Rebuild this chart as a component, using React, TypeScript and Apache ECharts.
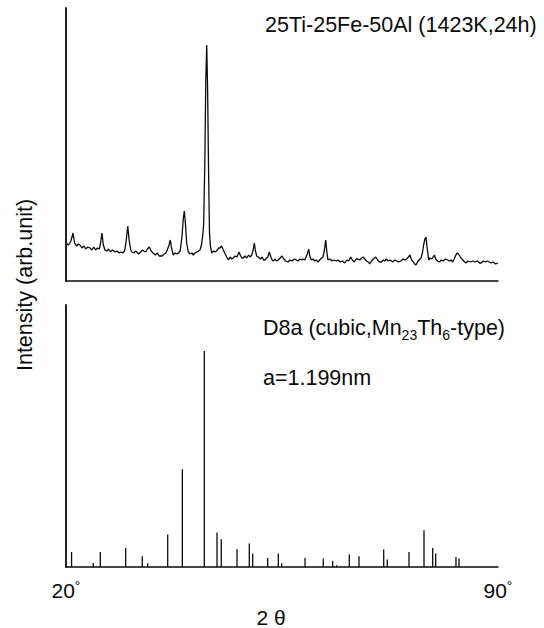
import React, { useEffect, useRef } from "react";
import * as echarts from "echarts";

// ---- Data ----
// Top panel: measured XRD trace, 25Ti-25Fe-50Al (1423K, 24h)
const topTwoTheta: number[] = [
  20.0, 20.4, 20.8, 21.13, 21.4, 21.7, 22.0, 22.27, 22.6, 22.9, 23.2, 23.5, 23.89, 24.2, 24.5, 24.8, 25.1, 25.4, 25.6, 25.83, 26.05, 26.32, 26.6, 26.9, 27.2, 27.5, 27.94, 28.3, 28.6, 28.9, 29.2, 29.5, 29.75, 30.0, 30.25, 30.5, 30.69,
  31.0, 31.3, 31.78, 32.1, 32.4, 32.59, 32.9, 33.2, 33.5, 33.8, 34.1, 34.47, 34.8, 35.1, 35.56, 35.9, 36.2, 36.41, 36.7, 36.9, 37.1, 37.39, 37.7, 38.0, 38.2, 38.5, 38.8, 39.0, 39.17, 39.35, 39.55, 39.82, 40.1, 40.4, 40.63, 40.9, 41.2, 41.5, 41.71, 41.95, 42.15, 42.3, 42.5, 42.65, 42.8, 42.95, 43.1, 43.25, 43.4, 43.61,
  43.9, 44.2, 44.5, 44.75, 44.95, 45.2, 45.49, 45.8, 46.05, 46.3, 46.6, 46.85, 47.11, 47.4, 47.7, 48.03, 48.3, 48.5, 48.73, 49.0, 49.3, 49.6, 49.82, 50.1, 50.3, 50.51, 50.7, 50.9, 51.16, 51.5, 51.8, 52.0, 52.25, 52.5, 52.7, 52.94, 53.2, 53.4, 53.59, 53.9, 54.1, 54.4, 54.7, 55.0, 55.3, 55.6, 55.97,
  56.3, 56.6, 57.0, 57.32, 57.6, 57.9, 58.2, 58.4, 58.68, 58.9, 59.1, 59.33, 59.5, 59.75, 60.0, 60.3, 60.55, 60.83, 61.1, 61.4, 61.64, 61.85, 62.08, 62.25, 62.45, 62.8, 63.1, 63.4, 63.8, 64.1, 64.4, 64.8, 65.16, 65.5, 65.8, 66.13, 66.4, 66.7, 67.0, 67.32, 67.6, 67.9, 68.13, 68.4, 68.7, 69.0, 69.21, 69.5, 69.8, 70.18, 70.5, 70.8, 71.09, 71.4, 71.65, 71.9,
  72.2, 72.5, 72.94, 73.3, 73.6, 73.9, 74.28, 74.6, 74.9, 75.2, 75.5, 75.74, 76.0, 76.3, 76.5, 76.71, 76.95, 77.2, 77.52, 77.75, 77.95, 78.15, 78.33, 78.5, 78.77, 79.0, 79.3, 79.68, 79.9, 80.2, 80.49, 80.8, 81.1, 81.5, 81.85, 82.1, 82.4, 82.66, 82.9, 83.1, 83.36, 83.6, 84.0, 84.3, 84.6, 84.81, 85.1, 85.5, 85.9, 86.3, 86.7, 87.0, 87.25, 87.6, 88.0, 88.3, 88.59, 88.9, 89.2, 89.6, 90.0,
];
const topIntensity: number[] = [
  38, 36, 40, 48, 38, 35, 37, 36, 33, 35, 32, 34, 33, 31, 34, 31, 33, 32, 38, 48, 36, 31, 30, 32, 29, 31, 29, 30, 28, 29, 28, 30, 40, 55, 40, 31, 29,
  28, 30, 27, 29, 31, 30, 29, 32, 34, 30, 28, 26, 28, 25, 25, 27, 28, 31, 36, 41, 33, 26, 28, 27, 28, 30, 45, 62, 70, 58, 38, 29, 27, 28, 26, 28, 29, 30, 31, 36, 45, 56, 120, 200, 236, 190, 110, 48, 35, 28,
  30, 29, 31, 33, 33, 35, 31, 27, 24, 21, 24, 22, 23, 25, 24, 29, 25, 23, 23, 25, 23, 26, 24, 26, 30, 38, 30, 25, 24, 22, 24, 21, 21, 23, 24, 29, 24, 21, 20, 22, 20, 21, 23, 25, 22, 20, 19,
  21, 20, 22, 21, 20, 22, 21, 22, 21, 24, 27, 32, 25, 21, 22, 20, 21, 19, 21, 23, 24, 30, 41, 30, 21, 22, 20, 21, 20, 21, 19, 20, 18, 21, 20, 24, 21, 19, 22, 22, 21, 23, 24, 22, 20, 19, 17, 20, 22, 24, 21, 19, 19, 21, 20, 22,
  20, 21, 19, 21, 20, 19, 20, 22, 21, 22, 24, 26, 21, 19, 17, 16, 19, 21, 23, 28, 36, 42, 44, 34, 21, 23, 22, 26, 22, 20, 19, 21, 20, 22, 21, 20, 21, 19, 22, 25, 28, 27, 23, 21, 19, 18, 20, 19, 20, 19, 20, 18, 18, 20, 19, 20, 19, 18, 19, 17, 18,
];

// Bottom panel: calculated D8a (cubic, Mn23Th6-type) stick pattern, a = 1.199 nm
const stickTwoTheta: number[] = [
  20.9, 24.42, 25.56, 29.67, 32.36, 33.24, 36.48, 38.85, 42.41, 44.47, 45.16, 47.71, 49.7, 50.25, 52.68, 54.4, 54.95, 58.73,
  61.69, 63.21, 63.86, 65.9, 67.48, 71.48, 72.06, 75.58, 78.01, 79.42, 79.9, 83.19, 83.68,
];
const stickIntensity: number[] = [
  15, 4, 15, 19, 10.7, 3.7, 32.4, 97.7, 216, 34.4, 27.7, 17.7, 23.4, 13.4, 9, 13.4, 3.7, 9,
  8.4, 6, 1.7, 12.4, 10.7, 17.4, 7.4, 15, 36.7, 19, 13.4, 10, 8.4,
];

const xMin = 20;
const xMax = 90;
const xTickLabels: string[] = ["20", "90"];

const FONT = "'Liberation Sans', Arial, Helvetica, sans-serif";
const INK = "#0a0a0a";
const FS = 21.5;

export default function App() {
  const ref = useRef<HTMLDivElement>(null);

  useEffect(() => {
    if (!ref.current) return;
    const chart = echarts.init(ref.current, undefined, { renderer: "svg" });

    const topData = topTwoTheta.map((t, i) => [t, topIntensity[i]]);
    const stickData = stickTwoTheta.map((t, i) => [t, stickIntensity[i]]);

    const baseX = {
      type: "value" as const,
      min: xMin,
      max: xMax,
      interval: xMax - xMin,
      axisTick: { show: false },
      splitLine: { show: false },
      axisLine: { show: true, onZero: false, lineStyle: { color: INK, width: 1.5 } },
    };
    const baseY = {
      type: "value" as const,
      min: 0,
      axisTick: { show: false },
      splitLine: { show: false },
      axisLabel: { show: false },
      axisLine: { show: true, onZero: false, lineStyle: { color: INK, width: 1.8 } },
    };

    chart.setOption({
      animation: false,
      backgroundColor: "#ffffff",
      textStyle: { fontFamily: FONT },
      grid: [
        { left: 66, top: 8, width: 432, height: 273 },
        { left: 66, top: 305, width: 432, height: 262 },
      ],
      xAxis: [
        { ...baseX, gridIndex: 0, axisLabel: { show: false } },
        {
          ...baseX,
          gridIndex: 1,
          axisLabel: {
            show: true,
            margin: 12,
            formatter: (v: number) => {
              const idx = v === xMin ? 0 : v === xMax ? 1 : -1;
              if (idx < 0) return "";
              return `{n|${xTickLabels[idx]}}{d|°}`;
            },
            rich: {
              n: { fontSize: 21, fontFamily: FONT, color: INK, lineHeight: 22 },
              d: { fontSize: 14, fontFamily: FONT, color: INK, lineHeight: 13, verticalAlign: "top" },
            },
          },
        },
      ],
      yAxis: [
        { ...baseY, gridIndex: 0, max: 273 },
        { ...baseY, gridIndex: 1, max: 262 },
      ],
      series: [
        {
          type: "line",
          xAxisIndex: 0,
          yAxisIndex: 0,
          data: topData,
          showSymbol: false,
          symbol: "none",
          lineStyle: { color: INK, width: 1.3 },
        },
        {
          type: "bar",
          xAxisIndex: 1,
          yAxisIndex: 1,
          data: stickData,
          barWidth: 1.3,
          itemStyle: { color: INK },
        },
      ],
      graphic: [
        {
          type: "text",
          left: 265,
          top: 14,
          style: {
            text: "25Ti-25Fe-50Al (1423K,24h)",
            fontSize: FS,
            fontFamily: FONT,
            fill: INK,
          },
        },
        {
          type: "text",
          left: 263,
          top: 317,
          style: {
            text: "{n|D8a (cubic,Mn}{s|23}{n|Th}{s|6}{n|-type)}",
            fill: INK,
            rich: {
              n: { fontSize: FS, fontFamily: FONT, fill: INK, lineHeight: 28 },
              s: { fontSize: 14, fontFamily: FONT, fill: INK, lineHeight: 14, verticalAlign: "bottom" },
            },
          },
        },
        {
          type: "text",
          left: 263,
          top: 367,
          style: {
            text: "a=1.199nm",
            fontSize: FS,
            fontFamily: FONT,
            fill: INK,
          },
        },
        {
          type: "text",
          x: 25,
          y: 285,
          rotation: Math.PI / 2,
          style: {
            text: "Intensity (arb.unit)",
            fontSize: FS,
            fontFamily: FONT,
            fill: INK,
            align: "center",
            verticalAlign: "middle",
          },
        },
        {
          type: "text",
          x: 271,
          y: 617,
          style: {
            text: "2 θ",
            fontSize: 21,
            fontFamily: FONT,
            fill: INK,
            align: "center",
            verticalAlign: "middle",
          },
        },
      ],
    });

    return () => chart.dispose();
  }, []);

  return <div ref={ref} style={{ width: 544, height: 628, position: "absolute", left: 0, top: 0 }} />;
}
